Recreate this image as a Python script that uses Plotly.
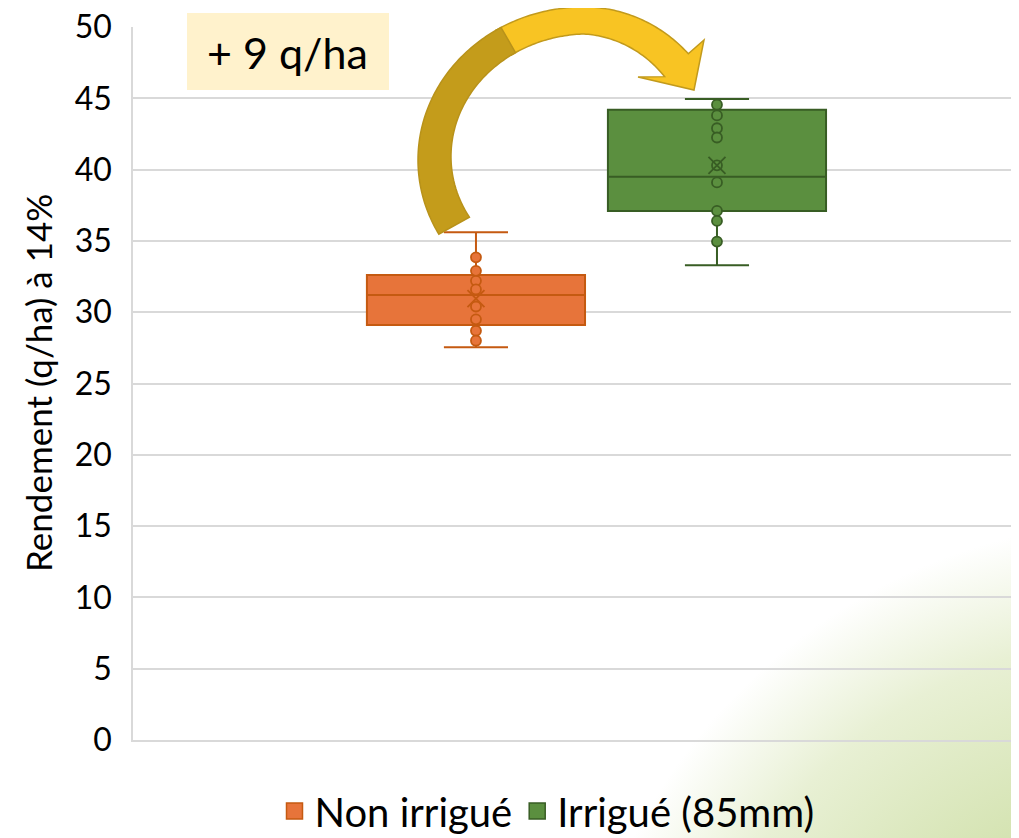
import base64
import math
import plotly.graph_objects as go

# ---------------- data ----------------
categories = ["Non irrigué", "Irrigué (85mm)"]
q1_vals = [29.1, 37.1]
median_vals = [31.2, 39.5]
q3_vals = [32.6, 44.2]
lower_fence = [27.55, 33.3]
upper_fence = [35.6, 44.95]
mean_vals = [30.95, 40.3]
points_non_irrigue = [33.85, 32.9, 32.2, 31.6, 30.4, 29.5, 28.7, 28.0]
points_irrigue = [44.55, 43.8, 42.9, 42.25, 40.3, 39.1, 37.1, 36.4, 34.95]
gain_label = "+ 9 q/ha"
y_title = "Rendement (q/ha) à 14%"
y_ticks = list(range(0, 51, 5))

fills = ["#E7743A", "#5B8F3F"]
lines = ["#C55A11", "#385D24"]
all_points = [points_non_irrigue, points_irrigue]

FONT = "Lato"
OFF = 8  # page body margin
W, H = 1011, 830
ML, MR, MT, MB = 125, 0, 19, 98
PW, PH = W - ML - MR, H - MT - MB


def to_paper(sx, sy):
    """screen pixel -> paper coordinates"""
    fx, fy = sx - OFF, sy - OFF
    return (fx - ML) / PW, (H - MB - fy) / PH


fig = go.Figure()

for i, cat in enumerate(categories):
    fig.add_trace(go.Box(
        x=[i], q1=[q1_vals[i]], median=[median_vals[i]], q3=[q3_vals[i]],
        lowerfence=[lower_fence[i]], upperfence=[upper_fence[i]],
        width=0.905, whiskerwidth=0.294, boxpoints=False,
        fillcolor=fills[i], line=dict(color=lines[i], width=2),
        name=cat, showlegend=False, hoverinfo="skip",
    ))
    fig.add_trace(go.Scatter(
        x=[i] * len(all_points[i]), y=all_points[i], mode="markers",
        marker=dict(symbol="circle", size=10, color=fills[i],
                    line=dict(color=lines[i], width=1.8)),
        showlegend=False, hoverinfo="skip",
    ))
    fig.add_trace(go.Scatter(
        x=[i], y=[mean_vals[i]], mode="markers",
        marker=dict(symbol="x-thin", size=17,
                    line=dict(color=lines[i], width=1.8)),
        showlegend=False, hoverinfo="skip",
    ))

# legend entries
for i, cat in enumerate(categories):
    fig.add_trace(go.Scatter(
        x=[None], y=[None], mode="markers", name=cat,
        marker=dict(symbol="square", size=19, color=fills[i],
                    line=dict(color=lines[i], width=1.5)),
    ))

# ---------------- curved arrow (decoration) ----------------
CX, CY = 584, 160


def outer(t):
    r = math.radians(t)
    a = 166 if math.cos(r) < 0 else 145
    return CX + a * math.cos(r), CY - 153 * math.sin(r)


def inner(t):
    r = math.radians(t)
    if t >= 90:
        w = 35 + (27 - 35) * (209 - t) / (209 - 90)
        a = 166 - w
    else:
        w = 27 + (33 - 27) * (90 - t) / (90 - 44)
        a = 145 - w
    return CX + a * math.cos(r), CY - (153 - w) * math.sin(r)


def path_from(pts):
    s = []
    for k, (x, y) in enumerate(pts):
        xp, yp = to_paper(x, y)
        s.append(("M" if k == 0 else "L") + f"{xp:.5f},{yp:.5f}")
    return " ".join(s) + " Z"


split = 120
dark_pts = [outer(t) for t in range(209, split - 1, -1)] + \
           [inner(t) for t in range(split, 210)]
head = [(704, 40), (694, 90), (638, 77)]
yellow_pts = [outer(t) for t in range(split + 2, 43, -1)] + head + \
             [inner(t) for t in range(44, split + 3)]

shapes = [
    dict(type="path", xref="paper", yref="paper", path=path_from(yellow_pts),
         fillcolor="#F8C423", line=dict(color="#C29A1C", width=1.5), layer="above"),
    dict(type="path", xref="paper", yref="paper", path=path_from(dark_pts),
         fillcolor="#C49C1B", line=dict(color="#B8921A", width=1.5), layer="above"),
]

# label box
x0, y0 = to_paper(187, 90)
x1, y1 = to_paper(389, 13)
shapes.append(dict(type="rect", xref="paper", yref="paper", x0=x0, y0=y0, x1=x1, y1=y1,
                   fillcolor="#FFF2CC", line=dict(width=0), layer="above"))

annotations = []
ax, ay = to_paper(287, 52)
annotations.append(dict(text=gain_label, xref="paper", yref="paper", x=ax, y=ay,
                        showarrow=False, font=dict(family=FONT, size=43, color="#000000"),
                        xanchor="center", yanchor="middle"))
tx, ty = to_paper(38, 383)
annotations.append(dict(text=y_title, xref="paper", yref="paper", x=tx, y=ty,
                        showarrow=False, textangle=-90,
                        font=dict(family=FONT, size=35, color="#000000"),
                        xanchor="center", yanchor="middle"))

# background gradient (bottom-right corner)
gcx, gcy = 1150 - OFF, 1100 - OFF
svg = f"""<svg xmlns='http://www.w3.org/2000/svg' width='{W}' height='{H}' viewBox='0 0 {W} {H}'>
<defs><radialGradient id='g' gradientUnits='userSpaceOnUse' cx='{gcx}' cy='{gcy}' r='580'>
<stop offset='0' stop-color='#C6DA98'/>
<stop offset='0.5' stop-color='#D4E3B1'/>
<stop offset='0.8' stop-color='#E8F0D4'/>
<stop offset='1' stop-color='#FFFFFF'/>
</radialGradient></defs>
<rect x='0' y='0' width='{W}' height='{H}' fill='#FFFFFF'/>
<rect x='0' y='0' width='{W}' height='{H}' fill='url(#g)'/>
</svg>"""
src = "data:image/svg+xml;base64," + base64.b64encode(svg.encode()).decode()
ix, iy = to_paper(OFF, OFF)

lx, _ = to_paper(547, 0)
_, ly = to_paper(0, 811)

x_left = -1.423
x_right = (W - (476 - OFF)) / 241

fig.update_layout(
    width=W, height=H,
    margin=dict(l=ML, r=MR, t=MT, b=MB, pad=0, autoexpand=False),
    paper_bgcolor="#FFFFFF", plot_bgcolor="rgba(0,0,0,0)",
    font=dict(family=FONT, color="#000000"),
    shapes=shapes, annotations=annotations,
    images=[dict(source=src, xref="paper", yref="paper", x=ix, y=iy,
                 sizex=W / PW, sizey=H / PH, xanchor="left", yanchor="top",
                 sizing="stretch", layer="below")],
    legend=dict(orientation="h", x=lx, xanchor="center", y=ly, yanchor="middle",
                font=dict(family=FONT, size=40, color="#000000"),
                bgcolor="rgba(0,0,0,0)", itemclick=False, tracegroupgap=0),
    xaxis=dict(range=[x_left, x_right], showgrid=False, zeroline=False,
               showticklabels=False, showline=True, linecolor="#D9D9D9", linewidth=1.5,
               fixedrange=True, automargin=False),
    yaxis=dict(range=[0, 50], tickvals=y_ticks, showgrid=True, gridcolor="#D9D9D9",
               gridwidth=1.5, zeroline=False, showline=True, linecolor="#D9D9D9",
               linewidth=1.5, ticks="", ticklabelstandoff=13, ticklabeloverflow="allow",
               tickfont=dict(family=FONT, size=32, color="#000000"), fixedrange=True,
               automargin=False),
)

fig.write_html("out.html")
